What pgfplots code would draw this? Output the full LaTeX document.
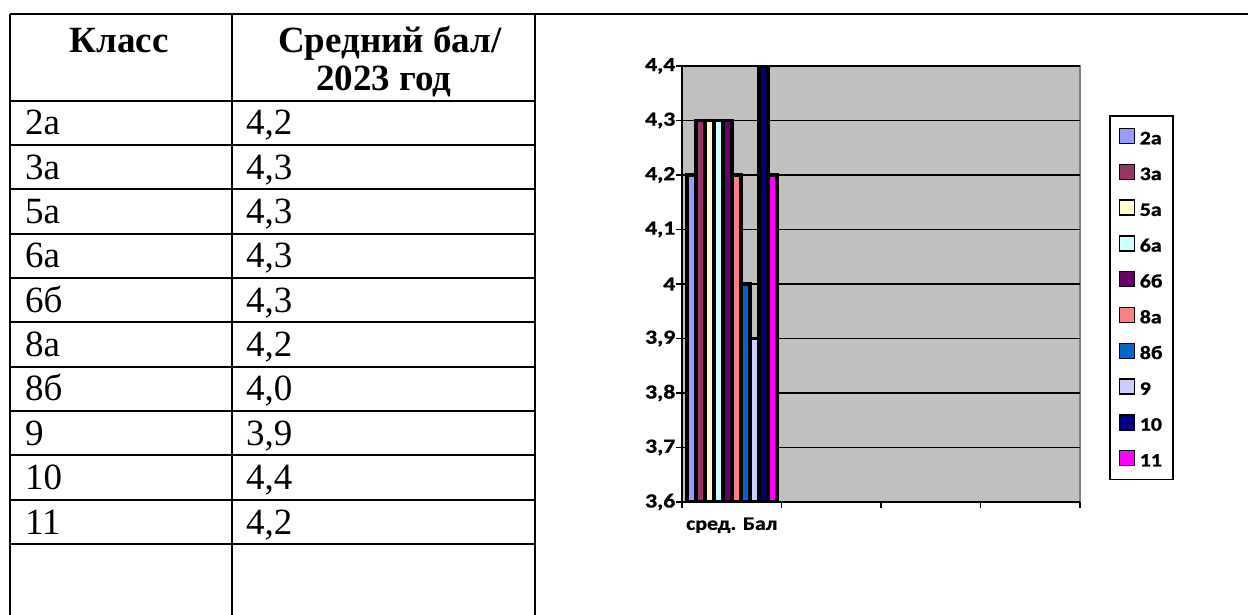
\documentclass[border=0pt]{standalone}
\usepackage{fontspec}
\usepackage{graphicx}
\setmainfont{Liberation Serif}
\newfontfamily\chartfont{Carlito}[BoldFeatures={FakeBold=1}]
\usepackage{pgfplots}
\pgfplotsset{compat=1.18}

\definecolor{c2a}{HTML}{9999FF}
\definecolor{c3a}{HTML}{993366}
\definecolor{c5a}{HTML}{FFFFCC}
\definecolor{c6a}{HTML}{CCFFFF}
\definecolor{c6b}{HTML}{660066}
\definecolor{c8a}{HTML}{FF8080}
\definecolor{c8b}{HTML}{0066CC}
\definecolor{c9}{HTML}{CCCCFF}
\definecolor{c10}{HTML}{000080}
\definecolor{c11}{HTML}{FF00FF}
\definecolor{plotgray}{HTML}{C0C0C0}
\definecolor{framegray}{HTML}{808080}

\pgfplotsset{
  mybar/.style={fill=#1, draw=black, line width=3.5bp,
    legend image code/.code={\draw[fill=#1, draw=black, line width=1.5bp] (0bp,-7bp) rectangle (15bp,8bp);}},
}
% chart text is a little wider than Carlito
\newcommand{\sx}[1]{\scalebox{1.15}[1]{#1}}
\newcommand{\sy}[1]{\scalebox{1.25}[1.05]{#1}}
\newcommand{\chf}{\chartfont\bfseries\fontsize{19bp}{22bp}\selectfont}
\newcommand{\tbf}{\fontsize{37bp}{42bp}\selectfont}

\begin{document}
\begin{tikzpicture}
\useasboundingbox (0,0) rectangle (1248bp,-615bp);

% table on the left
\begin{scope}[x=1bp, y=-1bp, line width=2bp]
  \draw (10,14) -- (1248,14);
  \draw (10,14) -- (10,615);
  \draw (232,14) -- (232,615);
  \draw (535,14) -- (535,615);
  \foreach \y in {100.5,144.9,189.2,233.6,277.9,322.3,366.6,411,455.3,499.7,544}
    \draw (10,\y) -- (535,\y);
  \node[anchor=base, font=\tbf\bfseries, inner sep=0] at (119,52) {Класс};
  \node[anchor=base, font=\tbf\bfseries, inner sep=0] at (390,52) {Средний бал/};
  \node[anchor=base, font=\tbf\bfseries, inner sep=0] at (384,90) {2023 год};
  \foreach \k/\v [count=\i] in {2а/{4,2},3а/{4,3},5а/{4,3},6а/{4,3},6б/{4,3},8а/{4,2},8б/{4,0},9/{3,9},10/{4,4},11/{4,2}} {
    \pgfmathsetmacro{\yb}{100.5+44.35*\i-10}
    \node[anchor=base west, font=\tbf, inner sep=0] at (24,\yb) {\k};
    \node[anchor=base west, font=\tbf, inner sep=0] at (245,\yb) {\v};
  }
\end{scope}

% chart on the right
\begin{axis}[
    at={(682bp,-502bp)}, anchor=south west,
    scale only axis, width=398bp, height=436bp,
    ybar=0pt, bar width=9bp,
    xmin=-0.5, xmax=3.5,
    ymin=3.6, ymax=4.4,
    ytick={3.6,3.7,3.8,3.9,4.0,4.1,4.2,4.3,4.4},
    xtick={-0.5,0.5,1.5,2.5,3.5},
    x tick label as interval,
    xticklabels={\sx{сред. Бал},,,},
    xticklabel style={yshift=-6bp},
    yticklabel={\sy{\pgfmathprintnumber{\tick}}},
    yticklabel style={inner xsep=0.5bp},
    axis x line*=bottom, axis y line*=left,
    axis line style={black, line width=2bp},
    tick align=outside, major tick length=6bp,
    tick style={black, line width=1.5bp},
    ymajorgrids, grid style={black, line width=1.5bp},
    axis background/.style={fill=plotgray, draw=framegray, line width=2.5bp},
    /pgf/number format/use comma,
    /pgf/number format/assume math mode=true,
    tick label style={font=\chf},
    legend style={at={(1.073,0.8876)}, anchor=north west, draw=black,
      line width=1.5bp, fill=white, font=\chf, row sep=16.3bp,
      column sep=3bp, inner xsep=9bp, inner ysep=11bp,
      nodes={text height=16bp, text depth=0.5bp, inner sep=1.5bp}},
    legend cell align=left,
  ]
  \addplot[mybar=c2a] coordinates {(0,4.2)};
  \addplot[mybar=c3a] coordinates {(0,4.3)};
  \addplot[mybar=c5a] coordinates {(0,4.3)};
  \addplot[mybar=c6a] coordinates {(0,4.3)};
  \addplot[mybar=c6b] coordinates {(0,4.3)};
  \addplot[mybar=c8a] coordinates {(0,4.2)};
  \addplot[mybar=c8b] coordinates {(0,4.0)};
  \addplot[mybar=c9] coordinates {(0,3.9)};
  \addplot[mybar=c10] coordinates {(0,4.4)};
  \addplot[mybar=c11] coordinates {(0,4.2)};
  \legend{\sx{2а},\sx{3а},\sx{5а},\sx{6а},\sx{6б},\sx{8а},\sx{8б},\sx{9},\sx{10},\sx{11}}
\end{axis}
\end{tikzpicture}
\end{document}
